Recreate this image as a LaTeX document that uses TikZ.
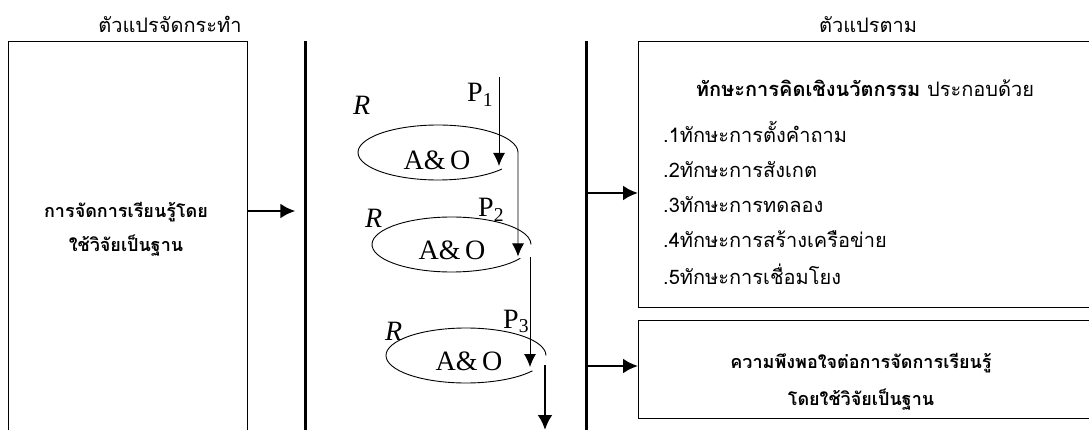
\documentclass[tikz,border=0pt]{standalone}
\usepackage{fontspec}
\setmainfont{Liberation Serif}
\newfontfamily\thaifont[Script=Thai]{Loma}
\usetikzlibrary{arrows.meta,calc}
\tikzset{>=Latex}
\tikzset{
  box/.style = {draw, line width=1pt, rectangle, inner sep=0pt},
  bar/.style = {fill=black, inner sep=0pt, minimum width=3pt},
  bigarrow/.style = {-{Latex[length=15pt,width=15pt]}, line width=2.6pt},
  flow/.style = {-{Latex[length=13pt,width=12pt]}, line width=0.9pt},
  loop/.style = {line width=0.9pt},
  thai/.style = {font=\thaifont\fontsize{20}{20}\selectfont, inner sep=0pt},
  thaibold/.style = {font=\thaifont\bfseries\fontsize{18}{18}\selectfont, inner sep=0pt},
  latin/.style = {font=\fontsize{28}{28}\selectfont, inner sep=0pt}
}

\begin{document}
\begin{tikzpicture}[x=1pt,y=1pt]
  \clip (0,0) rectangle (1089,-430);
  % left column
  \node[box, minimum width=239pt, minimum height=420pt, anchor=north west] (lbox) at (8,-41) {};
  \node[thai, anchor=base] (ltitle) at (170,-33) {ตัวแปรจัดกระทำ};
  \node[thaibold, anchor=base] (ltext1) at (126,-218) {การจัดการเรียนรู้โดย};
  \node[thaibold, anchor=base] (ltext2) at (126,-252) {ใช้วิจัยเป็นฐาน};
  % bars
  \node[bar, minimum height=400pt, anchor=north] (bar1) at (305,-41) {};
  \node[bar, minimum height=400pt, anchor=north] (bar2) at (586,-41) {};
  \coordinate (y1) at (0,-211);
  \coordinate (y2) at (0,-193);
  \coordinate (y3) at (0,-366);
  \draw[bigarrow, shorten >=8pt] (lbox.east |- y1) -- (bar1.west |- y1);
  % spiral
  \coordinate (c1) at (438,-152.5);
  \coordinate (c2) at (451.5,-244.5);
  \coordinate (c3) at (466,-355.5);
  \node[latin, anchor=base] (ao1) at (437,-170) {A\&\,O};
  \node[latin, anchor=base] (ao2) at (452,-260) {A\&\,O};
  \node[latin, anchor=base] (ao3) at (469,-370) {A\&\,O};
  \node[latin, anchor=base west] (r1) at (353,-115) {\textit{R}};
  \node[latin, anchor=base west] (r2) at (365,-228) {\textit{R}};
  \node[latin, anchor=base west] (r3) at (385,-340) {\textit{R}};
  \node[latin, anchor=base west] (p1) at (467,-102) {P\textsubscript{1}};
  \node[latin, anchor=base west] (p2) at (478,-217) {P\textsubscript{2}};
  \node[latin, anchor=base west] (p3) at (503,-328) {P\textsubscript{3}};
  \coordinate (in1) at (499,-77);
  \draw[flow] (in1) -- ++(0,-89);
  \draw[flow] ($(c1)+(-37:80 and 27.5)$) arc[start angle=-37, end angle=-360, x radius=80, y radius=27.5] -- ++(0,-104);
  \draw[loop] ($(c2)+(-30:79.5 and 27.5)$) arc[start angle=-30, end angle=-360, x radius=79.5, y radius=27.5];
  \coordinate (out2) at ($(c2)+(78.5,-12.5)$);
  \draw[flow] (out2) -- ++(0,-110);
  \draw[loop] ($(c3)+(-34:80 and 27.5)$) arc[start angle=-34, end angle=-360, x radius=80, y radius=27.5];
  \coordinate (out3) at ($(c3)+(79,-9.5)$);
  \draw[bigarrow, line width=2.8pt] (out3) -- ++(0,-65);
  % right column
  \node[thai, anchor=base] (rtitle) at (868,-33) {ตัวแปรตาม};
  \node[box, minimum width=470pt, minimum height=266pt, anchor=north west] (rbox1) at (638,-41) {};
  \node[box, minimum width=470pt, minimum height=98pt, anchor=north west] (rbox2) at (638,-320) {};
  \draw[bigarrow] (bar2.east |- y2) -- (rbox1.west |- y2);
  \draw[bigarrow] (bar2.east |- y3) -- (rbox2.west |- y3);
  \node[thai, anchor=base] (head) at (865,-97) {{\bfseries ทักษะการคิดเชิงนวัตกรรม} ประกอบด้วย};
  \node[thai, anchor=base west] (s1) at (663,-143) {.1ทักษะการตั้งคำถาม};
  \node[thai, anchor=base west] (s2) at (663,-178) {.2ทักษะการสังเกต};
  \node[thai, anchor=base west] (s3) at (663,-213) {.3ทักษะการทดลอง};
  \node[thai, anchor=base west] (s4) at (663,-248) {.4ทักษะการสร้างเครือข่าย};
  \node[thai, anchor=base west] (s5) at (663,-284) {.5ทักษะการเชื่อมโยง};
  \node[thaibold, anchor=base] (sat1) at (861,-368) {ความพึงพอใจต่อการจัดการเรียนรู้};
  \node[thaibold, anchor=base] (sat2) at (861,-405) {โดยใช้วิจัยเป็นฐาน};
\end{tikzpicture}
\end{document}
